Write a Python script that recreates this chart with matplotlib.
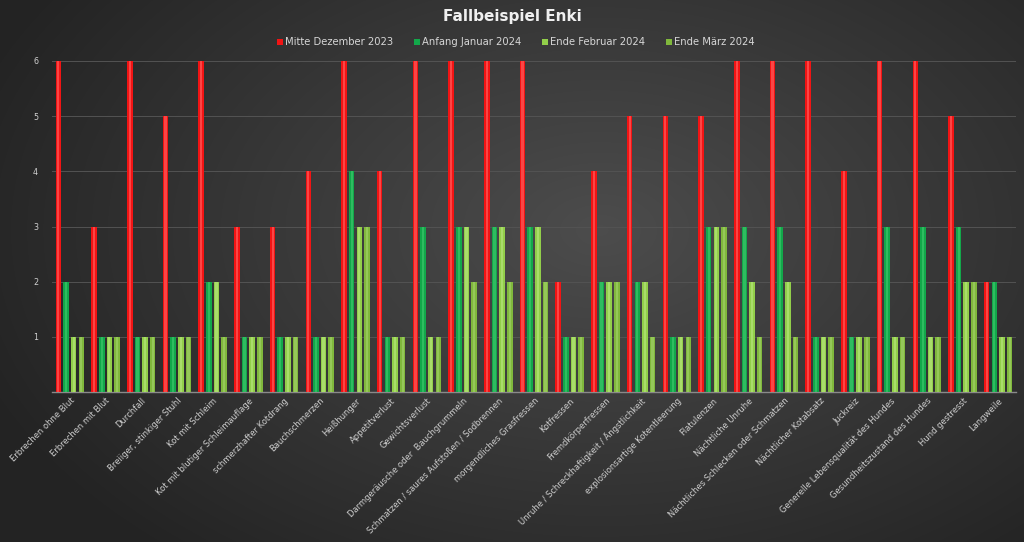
import numpy as np
import matplotlib
matplotlib.use("Agg")
import matplotlib.pyplot as plt
from matplotlib.lines import Line2D

categories = [
    "Erbrechen ohne Blut", "Erbrechen mit Blut", "Durchfall", "Breiiger, stinkiger Stuhl",
    "Kot mit Schleim", "Kot mit blutiger Schleimauflage", "schmerzhafter Kotdrang",
    "Bauchschmerzen", "Heißhunger", "Appetitverlust", "Gewichtsverlust",
    "Darmgeräusche oder  Bauchgrummeln", "Schmatzen / saures Aufstoßen / Sodbrennen",
    "morgendliches Grasfressen", "Kotfressen", "Fremdkörperfressen",
    "Unruhe / Schreckhaftigkeit / Ängstlichkeit", "explosionsartige Kotentleerung",
    "Flatulenzen", "Nächtliche Unruhe", "Nächtliches Schlecken oder Schmatzen",
    "Nächtlicher Kotabsatz", "Juckreiz", "Generelle Lebensqualität des Hundes",
    "Gesundheitszustand des Hundes", "Hund gestresst", "Langweile",
]
series_names = ["Mitte Dezember 2023", "Anfang Januar 2024", "Ende Februar 2024", "Ende März 2024"]
dez_2023 = [6, 3, 6, 5, 6, 3, 3, 4, 6, 4, 6, 6, 6, 6, 2, 4, 5, 5, 5, 6, 6, 6, 4, 6, 6, 5, 2]
jan_2024 = [2, 1, 1, 1, 2, 1, 1, 1, 4, 1, 3, 3, 3, 3, 1, 2, 2, 1, 3, 3, 3, 1, 1, 3, 3, 3, 2]
feb_2024 = [1, 1, 1, 1, 2, 1, 1, 1, 3, 1, 1, 3, 3, 3, 1, 2, 2, 1, 3, 2, 2, 1, 1, 1, 1, 2, 1]
mar_2024 = [1, 1, 1, 1, 1, 1, 1, 1, 3, 1, 1, 2, 2, 2, 1, 2, 1, 1, 3, 1, 1, 1, 1, 1, 1, 2, 1]
y_ticks = [1, 2, 3, 4, 5, 6]

series = [dez_2023, jan_2024, feb_2024, mar_2024]
colors = ["#f21414", "#12a84a", "#92cf4a", "#80b83c"]
highlights = ["#ff5a5a", "#3cc56a", "#b4e27a", "#9fce66"]

W, H = 1024, 542
fig = plt.figure(figsize=(W / 100, H / 100), dpi=100)

# background radial gradient
bg = fig.add_axes([0, 0, 1, 1], zorder=-10)
yy, xx = np.mgrid[0:H, 0:W]
cx, cy = 600, 230
r = np.sqrt(((xx - cx) / 700.0) ** 2 + ((yy - cy) / 450.0) ** 2)
val = np.clip(0.30 - 0.17 * r, 0.14, 0.30)
img = np.dstack([val, val, val])
bg.imshow(img, aspect="auto", extent=[0, 1, 0, 1], origin="upper")
bg.axis("off")

ax = fig.add_axes([52 / W, 1 - 392 / H, (1016 - 52) / W, (392 - 61) / H])
ax.set_facecolor("none")

x = np.arange(len(categories))
step = 0.214
bw = 0.155
for i, (vals, c, hc) in enumerate(zip(series, colors, highlights)):
    off = (i - 1.5) * step
    ax.bar(x + off, vals, width=bw, color=c, zorder=3, linewidth=0)
    ax.bar(x + off, vals, width=bw * 0.4, color=hc, alpha=0.7, zorder=4, linewidth=0)

ax.set_xlim(-0.5, len(categories) - 0.5)
ax.set_ylim(0, 6)
ax.set_yticks(y_ticks)
ax.set_yticklabels([str(t) for t in y_ticks])
ax.yaxis.grid(True, color="#535353", linewidth=0.7, zorder=0)
ax.set_axisbelow(True)
for s in ["top", "right", "left"]:
    ax.spines[s].set_visible(False)
ax.spines["bottom"].set_color("#8a8a8a")
ax.spines["bottom"].set_linewidth(1.0)
ax.tick_params(axis="both", length=0, colors="#d0d0d0", labelsize=5.8)
ax.tick_params(axis="y", pad=10)
ax.set_xticks(x)
ax.set_xticklabels(categories, rotation=45, ha="right", rotation_mode="anchor",
                   fontsize=6.0, color="#cfcfcf", family="DejaVu Sans")
ax.tick_params(axis="x", pad=3)

fig.text(0.5, 1 - 17 / H, "Fallbeispiel Enki", ha="center", va="center",
         fontsize=11, fontweight="bold", color="#f0f0f0", family="DejaVu Sans")

handles = [Line2D([0], [0], marker="s", linestyle="none", markersize=4.5,
                  markerfacecolor=c, markeredgewidth=0) for c in colors]
leg = fig.legend(handles, series_names, loc="center", bbox_to_anchor=(0.503, 1 - 42 / H),
                 ncol=4, frameon=False, handletextpad=0.1,
                 columnspacing=2.0, handlelength=0.8, prop={"family": "DejaVu Sans", "size": 7.2})
for t in leg.get_texts():
    t.set_color("#d6d6d6")

fig.savefig("out.png", dpi=100, facecolor="#3a3a3a")
